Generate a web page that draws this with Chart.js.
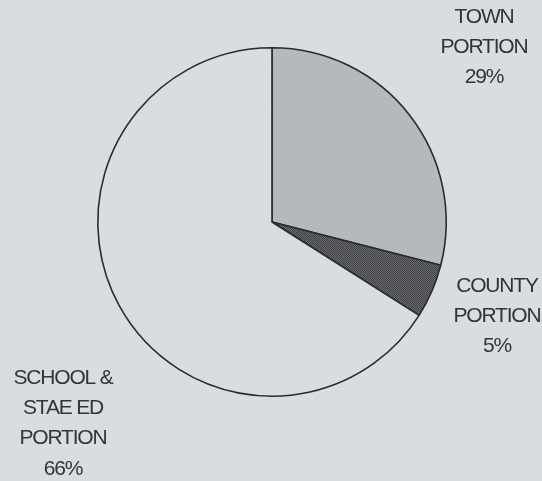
<!DOCTYPE html>
<html><head><meta charset="utf-8">
<script src="https://cdn.jsdelivr.net/npm/chart.js@4.4.0/dist/chart.umd.min.js"></script>
<style>
html,body{margin:0;padding:0;background:#d9dce1;}
#wrap{position:relative;width:542px;height:481px;}
canvas{display:block;}
</style></head><body>
<div id="wrap"><canvas id="c" width="542" height="481"></canvas></div>
<script>
const categories = ["TOWN PORTION", "COUNTY PORTION", "SCHOOL & STAE ED PORTION"];
const values = [29, 5, 66];
const labelLines = [["TOWN", "PORTION", "29%"], ["COUNTY", "PORTION", "5%"], ["SCHOOL &", "STAE ED", "PORTION", "66%"]];

function stipple() {
  const p = document.createElement('canvas');
  p.width = 2; p.height = 2;
  const g = p.getContext('2d');
  g.fillStyle = '#6a6c72'; g.fillRect(0,0,2,2);
  g.fillStyle = '#3e4046'; g.fillRect(0,0,1,1); g.fillRect(1,1,1,1);
  return g.createPattern(p, 'repeat');
}
const ctx0 = document.getElementById('c').getContext('2d');
const labelPos = [{x:484, y:17}, {x:497, y:286}, {x:63, y:378}];

const labelPlugin = {
  id: 'sliceLabels',
  afterDraw(chart) {
    const ctx = chart.ctx;
    ctx.save();
    ctx.fillStyle = '#333437';
    ctx.font = '21px "Liberation Sans", Arial, sans-serif';
    ctx.textAlign = 'center';
    ctx.textBaseline = 'middle';
    if ('letterSpacing' in ctx) ctx.letterSpacing = '-1.2px';
    labelLines.forEach((lines, i) => {
      lines.forEach((t, j) => {
        ctx.fillText(t, labelPos[i].x, labelPos[i].y + j * 30.3);
      });
    });
    ctx.restore();
  }
};

new Chart(ctx0, {
  type: 'pie',
  data: {
    labels: categories,
    datasets: [{
      data: values,
      backgroundColor: ['#b5b8bc', stipple(), '#d9dce1'],
      borderColor: '#2a2b2e',
      borderWidth: 1.6
    }]
  },
  options: {
    responsive: false,
    animation: false,
    layout: { padding: { left: 97, right: 95, top: 47, bottom: 84 } },
    plugins: { legend: { display: false }, tooltip: { enabled: false } }
  },
  plugins: [labelPlugin]
});
</script>
</body></html>
